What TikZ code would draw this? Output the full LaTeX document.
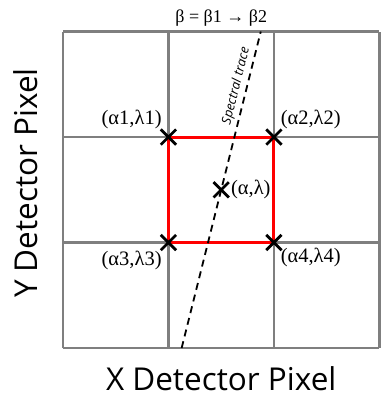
\documentclass[tikz,border=0pt]{standalone}
\usepackage{fontspec}
\setmainfont{Liberation Serif}
\setsansfont{Open Sans}
\usepackage{xcolor}
\usepackage{tikz}
\usetikzlibrary{positioning,shapes.misc}
\definecolor{GridGray}{HTML}{7F7F7F}
\definecolor{BoxRed}{HTML}{FF0000}

\begin{document}
\begin{tikzpicture}[x=105.5pt,y=105.5pt,
  gridline/.style={draw=GridGray,line width=2.4pt},
  boxline/.style={draw=BoxRed,line width=3pt},
  traceline/.style={draw=black,line width=1.8pt,dash pattern=on 7pt off 5pt},
  xmark/.style={cross out,draw=black,line width=2.8pt,minimum size=12.5pt,inner sep=0pt},
  ptlabel/.style={font=\fontsize{20.5}{22}\selectfont,inner sep=1pt},
  axislabel/.style={font=\sffamily\fontsize{31.5}{34}\selectfont,inner sep=0pt,anchor=base}]
\useasboundingbox (-0.597,-0.436) rectangle (3.014,3.299);
\draw[gridline] (0,0) grid[step=1] (3,3);
% corners of the interpolation box
\coordinate (c1) at (1,2);
\coordinate (c2) at (2,2);
\coordinate (c3) at (1,1);
\coordinate (c4) at (2,1);
\draw[boxline] (c1) -- (c2) -- (c4) -- (c3) -- cycle;
% spectral trace
\coordinate (tb) at (1.125,0);
\coordinate (tt) at (1.875,3);
\draw[traceline] (tb) -- (tt)
  node[pos=0.82,sloped,above=3pt,inner sep=0pt,font=\sffamily\itshape\fontsize{13}{14}\selectfont] (tl) {Spectral trace};
\node[xmark] (p1) at (c1) {};
\node[xmark] (p2) at (c2) {};
\node[xmark] (p3) at (c3) {};
\node[xmark] (p4) at (c4) {};
\node[xmark] (pc) at (1.5,1.5) {};
\node[ptlabel,above left=-1pt and -2pt of p1] {(α1,λ1)};
\node[ptlabel,above right=-1pt and -2pt of p2] {(α2,λ2)};
\node[ptlabel,below left=0pt and -2pt of p3] {(α3,λ3)};
\node[ptlabel,below right=-3pt and -2pt of p4] {(α4,λ4)};
\node[ptlabel,right=1pt of pc] {(α,λ)};
\node[font=\fontsize{18}{20}\selectfont,inner sep=0pt] (title) at (1.5,3.13) {β = β1 → β2};
\node[axislabel] (xlab) at (1.5,-0.40) {X Detector Pixel};
\node[axislabel,rotate=90] (ylab) at (-0.237,1.564) {Y Detector Pixel};
\end{tikzpicture}
\end{document}
